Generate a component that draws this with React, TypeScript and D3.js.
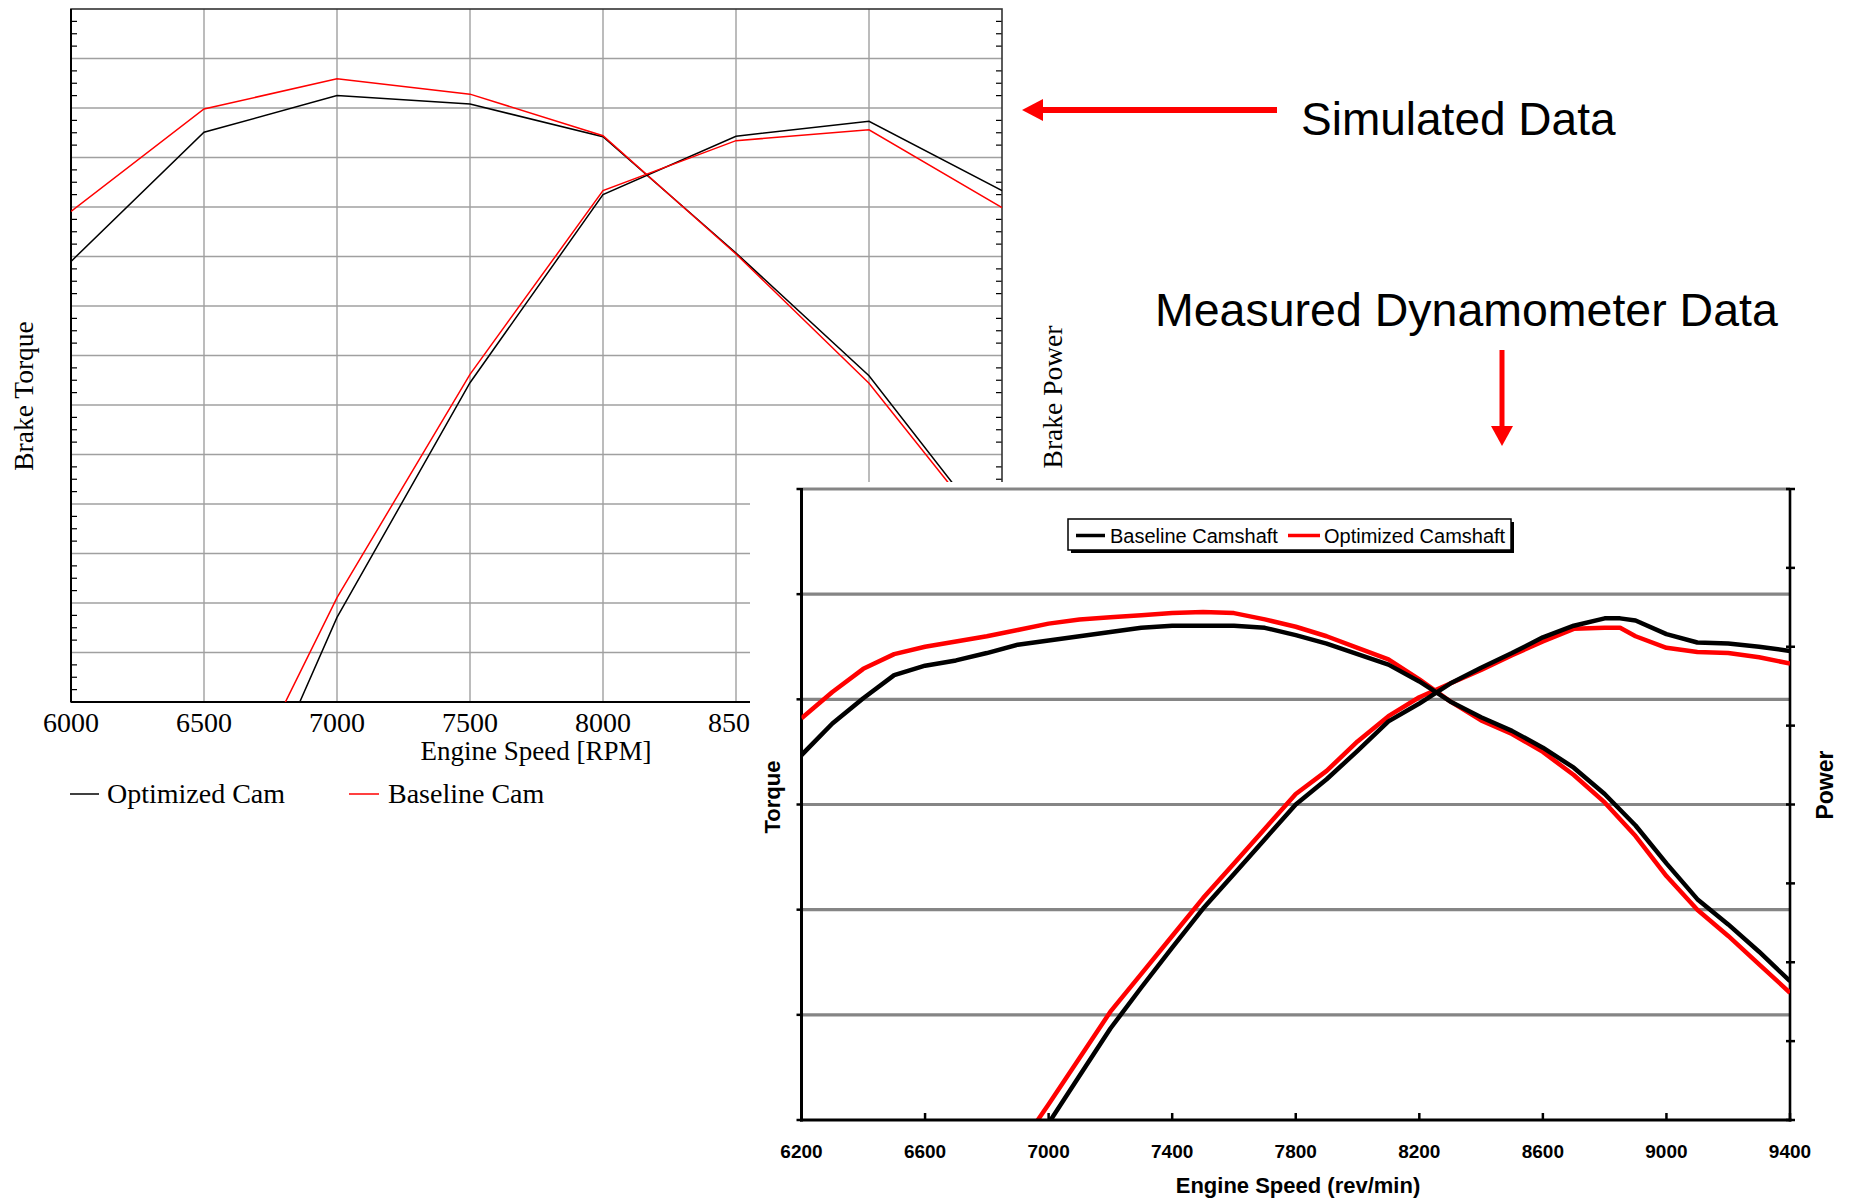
import React from 'react';
import * as d3 from 'd3';

// ---- Simulated data (top-left chart), values in grid units (no y labels shown)
const simRpm = [6000, 6500, 7000, 7500, 8000, 8500, 9000, 9500];
const simTorqueOptimized = [8.9, 11.51, 12.25, 12.08, 11.42, 9.07, 6.59, 3.14];
const simTorqueBaseline = [9.91, 11.98, 12.59, 12.28, 11.44, 9.05, 6.44, 3.07];
const simPowerRpm = [6500, 7000, 7500, 8000, 8500, 9000, 9500];
const simPowerOptimized = [-4.4, 1.71, 6.45, 10.25, 11.43, 11.73, 10.33];
const simPowerBaseline = [-3.33, 2.11, 6.62, 10.33, 11.34, 11.56, 9.99];
const simXTicks = [6000, 6500, 7000, 7500, 8000, 8500, 9000, 9500];

// ---- Measured dynamometer data (bottom-right chart), grid units
const dynoRpm = [
  6200, 6300, 6400, 6500, 6600, 6700, 6800, 6900, 7000, 7100, 7200, 7300, 7400, 7500, 7600, 7700,
  7800, 7900, 8000, 8100, 8200, 8300, 8400, 8500, 8600, 8700, 8800, 8900, 9000, 9100, 9200, 9300, 9400,
];
const torqueBaseline = [
  3.47, 3.77, 4.01, 4.23, 4.32, 4.37, 4.44, 4.52, 4.56, 4.6, 4.64, 4.68, 4.7, 4.7, 4.7, 4.68,
  4.61, 4.53, 4.43, 4.33, 4.17, 3.98, 3.83, 3.7, 3.54, 3.35, 3.1, 2.8, 2.44, 2.1, 1.86, 1.6, 1.32,
];
const torqueOptimized = [
  3.82, 4.07, 4.29, 4.43, 4.5, 4.55, 4.6, 4.66, 4.72, 4.76, 4.78, 4.8, 4.82, 4.83, 4.82, 4.76,
  4.69, 4.6, 4.49, 4.38, 4.19, 3.98, 3.8, 3.67, 3.5, 3.28, 3.02, 2.7, 2.32, 2.0, 1.75, 1.48, 1.21,
];
const powerRpm = [
  6900, 7000, 7100, 7200, 7300, 7400, 7500, 7600, 7700, 7800, 7900, 8000, 8100, 8200, 8300, 8400, 8500,
  8600, 8700, 8800, 8850, 8900, 9000, 9100, 9200, 9300, 9400,
];
const powerBaseline = [
  -0.45, -0.03, 0.42, 0.87, 1.26, 1.64, 2.01, 2.34, 2.67, 3.0, 3.24, 3.51, 3.79, 3.96, 4.15, 4.3, 4.44,
  4.59, 4.7, 4.77, 4.77, 4.75, 4.62, 4.54, 4.53, 4.5, 4.46,
];
const powerOptimized = [
  -0.28, 0.15, 0.59, 1.03, 1.39, 1.75, 2.11, 2.44, 2.77, 3.1, 3.32, 3.6, 3.84, 4.02, 4.15, 4.28, 4.42,
  4.55, 4.67, 4.68, 4.68, 4.6, 4.49, 4.45, 4.44, 4.4, 4.34,
];
const dynoXTicks = [6200, 6600, 7000, 7400, 7800, 8200, 8600, 9000, 9400];

const zip = (xs: number[], ys: number[]) => xs.map((x, i) => [x, ys[i]] as [number, number]);

const serif = '"Liberation Serif", "Times New Roman", serif';
const sans = '"Liberation Sans", Arial, sans-serif';

function SimChart() {
  const left = 71, right = 1002, top = 9, bottom = 702;
  const x = d3.scaleLinear().domain([6000, 9500]).range([left, right]);
  const y = d3.scaleLinear().domain([0, 14]).range([bottom, top]);
  const line = d3.line<[number, number]>().x(d => x(d[0])).y(d => y(d[1]));
  const minor = d3.range(0, 14.01, 0.25).filter(v => v % 1 !== 0);
  const series = [
    { d: zip(simRpm, simTorqueOptimized), c: '#000' },
    { d: zip(simRpm, simTorqueBaseline), c: '#ff0000' },
    { d: zip(simPowerRpm, simPowerOptimized), c: '#000' },
    { d: zip(simPowerRpm, simPowerBaseline), c: '#ff0000' },
  ];
  return (
    <g>
      <defs>
        <clipPath id="simClip">
          <rect x={left} y={top} width={right - left} height={bottom - top} />
        </clipPath>
      </defs>
      {d3.range(1, 14).map(v => (
        <line key={'h' + v} x1={left} x2={right} y1={y(v)} y2={y(v)} stroke="#a0a0a0" strokeWidth={1.6} />
      ))}
      {simXTicks.slice(1, -1).map(v => (
        <line key={'v' + v} x1={x(v)} x2={x(v)} y1={top} y2={bottom} stroke="#a0a0a0" strokeWidth={1.4} />
      ))}
      {minor.map(v => (
        <g key={'m' + v}>
          <line x1={left} x2={left + 6} y1={y(v)} y2={y(v)} stroke="#000" strokeWidth={1.2} />
          <line x1={right - 6} x2={right} y1={y(v)} y2={y(v)} stroke="#000" strokeWidth={1.2} />
        </g>
      ))}
      <rect x={left} y={top} width={right - left} height={bottom - top} fill="none" stroke="#333" strokeWidth={1.6} />
      <line x1={left} x2={right} y1={bottom} y2={bottom} stroke="#000" strokeWidth={2} />
      <line x1={left} x2={left} y1={top} y2={bottom} stroke="#000" strokeWidth={2} />
      <g clipPath="url(#simClip)">
        {series.map((s, i) => (
          <path key={i} d={line(s.d) || ''} fill="none" stroke={s.c} strokeWidth={1.5} />
        ))}
      </g>
      {simXTicks.map(v => (
        <text key={'t' + v} x={x(v)} y={732} textAnchor="middle" fontFamily={serif} fontSize={28} fill="#000">
          {v}
        </text>
      ))}
      <text x={536} y={760} textAnchor="middle" fontFamily={serif} fontSize={27}>Engine Speed [RPM]</text>
      <text transform="translate(33,396) rotate(-90)" textAnchor="middle" fontFamily={serif} fontSize={27.5}>Brake Torque</text>
      <text transform="translate(1062,397) rotate(-90)" textAnchor="middle" fontFamily={serif} fontSize={27.5}>Brake Power</text>
      <line x1={70} x2={99} y1={794} y2={794} stroke="#000" strokeWidth={1.5} />
      <text x={107} y={803} fontFamily={serif} fontSize={28}>Optimized Cam</text>
      <line x1={349} x2={379} y1={794} y2={794} stroke="#ff0000" strokeWidth={1.5} />
      <text x={388} y={803} fontFamily={serif} fontSize={28}>Baseline Cam</text>
    </g>
  );
}

function DynoChart() {
  const left = 801.5, right = 1790, top = 489, bottom = 1120;
  const x = d3.scaleLinear().domain([6200, 9400]).range([left, right]);
  const y = d3.scaleLinear().domain([0, 6]).range([bottom, top]);
  const yRight = d3.scaleLinear().domain([0, 8]).range([bottom, top]);
  const line = d3.line<[number, number]>().x(d => x(d[0])).y(d => y(d[1]));
  const series = [
    { d: zip(dynoRpm, torqueOptimized), c: '#ff0000' },
    { d: zip(powerRpm, powerOptimized), c: '#ff0000' },
    { d: zip(dynoRpm, torqueBaseline), c: '#000' },
    { d: zip(powerRpm, powerBaseline), c: '#000' },
  ];
  return (
    <g>
      <defs>
        <clipPath id="dynoClip">
          <rect x={left} y={top - 2} width={right - left} height={bottom - top + 2} />
        </clipPath>
      </defs>
      {d3.range(1, 7).map(v => (
        <line key={'g' + v} x1={left} x2={right} y1={y(v)} y2={y(v)} stroke="#858585" strokeWidth={3.2} />
      ))}
      {d3.range(0, 7).map(v => (
        <line key={'lt' + v} x1={left - 5} x2={left} y1={y(v)} y2={y(v)} stroke="#000" strokeWidth={2.5} />
      ))}
      {d3.range(0, 9).map(v => (
        <line key={'rt' + v} x1={right - 4} x2={right + 5} y1={yRight(v)} y2={yRight(v)} stroke="#000" strokeWidth={2.5} />
      ))}
      {dynoXTicks.map(v => (
        <line key={'xt' + v} x1={x(v)} x2={x(v)} y1={bottom - 7} y2={bottom} stroke="#000" strokeWidth={2.5} />
      ))}
      <line x1={left} x2={left} y1={top - 1} y2={bottom + 1.5} stroke="#000" strokeWidth={3} />
      <line x1={right} x2={right} y1={top - 1} y2={bottom + 1.5} stroke="#000" strokeWidth={2.6} />
      <g clipPath="url(#dynoClip)">
        {series.map((s, i) => (
          <path key={i} d={line(s.d) || ''} fill="none" stroke={s.c} strokeWidth={4.5} strokeLinejoin="round" />
        ))}
      </g>
      <line x1={left - 1.5} x2={right + 1.5} y1={bottom} y2={bottom} stroke="#000" strokeWidth={3.2} />
      {dynoXTicks.map(v => (
        <text key={'xl' + v} x={x(v)} y={1158} textAnchor="middle" fontFamily={sans} fontWeight="bold" fontSize={19} fill="#000">
          {v}
        </text>
      ))}
      <text x={1298} y={1193} textAnchor="middle" fontFamily={sans} fontWeight="bold" fontSize={22}>Engine Speed (rev/min)</text>
      <text transform="translate(780,797) rotate(-90)" textAnchor="middle" fontFamily={sans} fontWeight="bold" fontSize={22}>Torque</text>
      <text transform="translate(1833,785) rotate(-90)" textAnchor="middle" fontFamily={sans} fontWeight="bold" fontSize={23}>Power</text>
      {/* legend */}
      <rect x={1071} y={522} width={443} height={31} fill="#000" />
      <rect x={1068} y={519} width={443} height={31} fill="#fff" stroke="#000" strokeWidth={1.5} />
      <line x1={1076} x2={1105} y1={535.5} y2={535.5} stroke="#000" strokeWidth={3.5} />
      <text x={1110} y={542.5} fontFamily={sans} fontSize={20}>Baseline Camshaft</text>
      <line x1={1288} x2={1320} y1={535.5} y2={535.5} stroke="#ff0000" strokeWidth={3.5} />
      <text x={1324} y={542.5} fontFamily={sans} fontSize={20}>Optimized Camshaft</text>
    </g>
  );
}

function Annotations() {
  return (
    <g>
      <line x1={1277} x2={1038} y1={110} y2={110} stroke="#ff0000" strokeWidth={6} />
      <path d="M1022,110 L1043,99 L1043,121 Z" fill="#ff0000" />
      <text x={1301} y={135} fontFamily={sans} fontSize={46}>Simulated Data</text>
      <text x={1155} y={326} fontFamily={sans} fontSize={46.5}>Measured Dynamometer Data</text>
      <line x1={1502} x2={1502} y1={350} y2={430} stroke="#ff0000" strokeWidth={5} />
      <path d="M1502,446 L1491,426 L1513,426 Z" fill="#ff0000" />
    </g>
  );
}

export default function App() {
  return (
    <svg
      width={1849}
      height={1202}
      style={{ position: 'absolute', left: 0, top: 0, background: '#fff' }}
    >
      <rect width={1849} height={1202} fill="#fff" />
      <SimChart />
      {/* the measured chart sits on top and hides part of the simulated one */}
      <rect x={750} y={482} width={1099} height={720} fill="#fff" />
      <DynoChart />
      <Annotations />
    </svg>
  );
}
